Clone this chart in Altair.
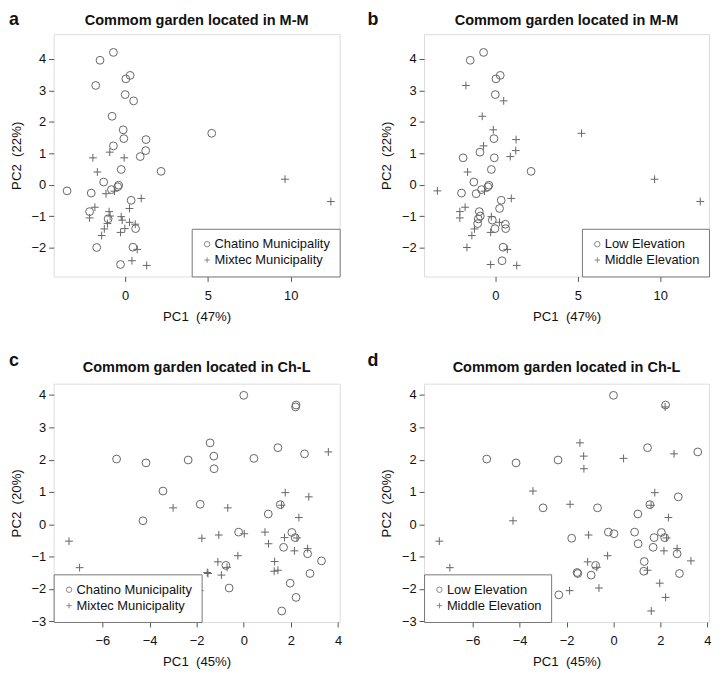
import altair as alt
import pandas as pd

# ---------------- Common garden located in M-M (panels a, b) ----------------
ab_pc1 = [-0.71, -1.52, 0.30, 0.04, -1.78, 0.00, 0.51, -0.79, -0.12, -0.08,
          1.26, -0.71, 1.24, 0.91, 5.23, -0.24, 2.17, -1.30, -0.39, -0.45,
          -0.83, -3.51, -2.05, 0.36, -2.15, -1.03, 0.63, -1.72, 0.47, -0.28,
          -1.95, -0.93, -0.06, -1.68, -1.16, -0.65, 0.97, 0.26, -1.83, -2.15,
          -0.97, -0.91, -0.24, -0.18, 0.26, 0.61, -0.02, -0.28, -1.26, -1.42,
          0.73, 0.41, 1.30, 9.66, 12.43, -1.07]
ab_pc2 = [4.21, 3.96, 3.48, 3.37, 3.16, 2.87, 2.67, 2.18, 1.75, 1.47,
          1.44, 1.24, 1.09, 0.90, 1.64, 0.49, 0.43, 0.09, -0.01, -0.06,
          -0.15, -0.19, -0.26, -0.49, -0.85, -1.08, -1.39, -1.99, -1.98, -2.53,
          0.86, 1.04, 0.86, 0.41, -0.28, -0.20, -0.43, -0.75, -0.71, -1.05,
          -0.85, -0.99, -1.01, -1.12, -1.19, -1.25, -1.39, -1.51, -1.40, -1.61,
          -2.05, -2.41, -2.56, 0.18, -0.53, -1.23]
ab_muni = ["C"] * 30 + ["M"] * 26
ab_elev = ["L", "L", "L", "L", "M", "L", "M", "M", "M", "L",
           "M", "M", "M", "M", "M", "L", "L", "L", "L", "L",
           "L", "M", "L", "L", "M", "L", "L", "M", "L", "M",
           "L", "L", "L", "M", "L", "M", "M", "L", "M", "M",
           "L", "L", "M", "L", "M", "L", "L", "M", "M", "M",
           "M", "L", "M", "M", "M", "L"]

# ---------------- Common garden located in Ch-L (panels c, d) ----------------
cd_pc1 = [0.00, 2.22, 2.20, -1.43, -1.27, -1.26, -2.36, -4.15, -5.40, 0.43,
          1.45, 2.58, -3.43, -4.28, -1.85, 1.04, 1.55, -0.22, 2.04, 2.18,
          1.69, 2.71, 3.30, -0.76, 2.81, -0.62, 1.97, 2.22, 1.61, -2.33,
          3.59, 1.76, 2.76, -0.68, -3.00, 1.60, 2.34, -1.78, -1.06, 0.02,
          0.90, 1.73, 2.26, 1.05, 2.15, 2.71, -0.25, -1.10, -0.71, -1.55,
          -1.52, -0.95, 1.31, 1.29, 1.45, -7.42, -6.97, -1.87]
cd_pc2 = [3.99, 3.69, 3.63, 2.52, 2.11, 1.72, 1.99, 1.90, 2.02, 2.04,
          2.37, 2.18, 1.03, 0.11, 0.62, 0.32, 0.61, -0.24, -0.25, -0.41,
          -0.71, -0.91, -1.13, -1.27, -1.52, -1.97, -1.82, -2.26, -2.68, -2.18,
          2.24, 0.98, 0.85, 0.51, 0.51, 0.59, 0.21, -0.43, -0.33, -0.29,
          -0.24, -0.41, -0.42, -0.60, -0.82, -0.75, -0.97, -1.16, -1.33, -1.49,
          -1.52, -1.57, -1.15, -1.45, -1.42, -0.52, -1.34, -2.05]
cd_muni = ["C"] * 30 + ["M"] * 28
cd_elev = ["L", "L", "M", "M", "M", "M", "L", "L", "L", "M",
           "L", "M", "M", "M", "M", "L", "L", "L", "L", "L",
           "L", "L", "M", "L", "L", "M", "M", "M", "M", "L",
           "L", "M", "L", "L", "L", "M", "M", "L", "M", "L",
           "L", "L", "M", "L", "M", "M", "M", "M", "M", "L",
           "L", "L", "L", "L", "M", "M", "M", "M"]

muni_names = {"C": "Chatino Municipality", "M": "Mixtec Municipality"}
elev_names = {"L": "Low Elevation", "M": "Middle Elevation"}

ab_df = pd.DataFrame({"PC1": ab_pc1, "PC2": ab_pc2,
                      "muni": [muni_names[m] for m in ab_muni],
                      "elev": [elev_names[e] for e in ab_elev]})
cd_df = pd.DataFrame({"PC1": cd_pc1, "PC2": cd_pc2,
                      "muni": [muni_names[m] for m in cd_muni],
                      "elev": [elev_names[e] for e in cd_elev]})

PLUS = "M-1,0H1M0,-1V1"
FONT = "Liberation Sans"
PT = "#666666"


def panel(df, field, domain_labels, legend_orient, xdom, ydom, xvals, yvals,
          xtitle, ytitle, title, letter, letter_dx, letter_dy, title_dy, w, h):
    pts = alt.Chart(df).mark_point(filled=False, size=62, strokeWidth=1,
                                   color=PT, opacity=1).encode(
        x=alt.X("PC1:Q", scale=alt.Scale(domain=xdom, nice=False, zero=False),
                axis=alt.Axis(values=xvals, title=xtitle, grid=False, domain=False,
                              tickSize=5, tickColor="#555", labelPadding=8,
                              labelFontSize=13, labelColor="#111", titleFontSize=13.3,
                              titleFontWeight="normal", titleColor="#111",
                              titlePadding=7, labelFont=FONT, titleFont=FONT)),
        y=alt.Y("PC2:Q", scale=alt.Scale(domain=ydom, nice=False, zero=False),
                axis=alt.Axis(values=yvals, title=ytitle, grid=False, domain=False,
                              tickSize=5, tickColor="#555", labelPadding=3,
                              labelAngle=0, labelFontSize=13, labelColor="#111",
                              titleFontSize=13.3, titleFontWeight="normal",
                              titleColor="#111", titlePadding=8,
                              labelFont=FONT, titleFont=FONT)),
        shape=alt.Shape(f"{field}:N",
                        scale=alt.Scale(domain=domain_labels, range=["circle", PLUS]),
                        legend=alt.Legend(orient=legend_orient, title=None, offset=0,
                                          direction="vertical",
                                          strokeColor="#777", fillColor="white",
                                          padding=9, labelFontSize=13,
                                          labelFont=FONT, labelColor="#111",
                                          labelLimit=300, labelOffset=1,
                                          symbolSize=30, symbolStrokeColor="#888",
                                          symbolStrokeWidth=1, rowPadding=2)),
    )
    lab = alt.Chart(pd.DataFrame({"t": [letter]})).mark_text(
        align="left", baseline="alphabetic", fontSize=18, fontWeight="bold",
        font=FONT, color="#111").encode(
        x=alt.value(letter_dx), y=alt.value(letter_dy), text="t:N")
    ttl = alt.Chart(pd.DataFrame({"t": [title]})).mark_text(
        align="center", baseline="alphabetic", fontSize=14.6, fontWeight="bold",
        font=FONT, color="#111").encode(
        x=alt.value(w / 2), y=alt.value(title_dy), text="t:N")
    return alt.layer(pts, lab, ttl).properties(width=w, height=h)


muni_dom = ["Chatino Municipality", "Mixtec Municipality"]
elev_dom = ["Low Elevation", "Middle Elevation"]

ab_x = [-4.32, 12.96]
ab_y = [-2.91, 4.79]
cd_x = [-8.07, 4.07]
cd_y = [-3.02, 4.35]

pa = panel(ab_df, "muni", muni_dom, "bottom-right", ab_x, ab_y, [0, 5, 10],
           [-2, -1, 0, 1, 2, 3, 4], "PC1\u00a0 (47%)", "PC2\u00a0 (22%)",
           "Commom garden located in M-M", "a", -45, -9, -9.5, 288, 244)
pb = panel(ab_df, "elev", elev_dom, "bottom-right", ab_x, ab_y, [0, 5, 10],
           [-2, -1, 0, 1, 2, 3, 4], "PC1\u00a0 (47%)", "PC2\u00a0 (22%)",
           "Commom garden located in M-M", "b", -57, -9, -9.5, 287, 244)
pc = panel(cd_df, "muni", muni_dom, "bottom-left", cd_x, cd_y, [-6, -4, -2, 0, 2, 4],
           [-3, -2, -1, 0, 1, 2, 3, 4], "PC1\u00a0 (45%)", "PC2\u00a0 (20%)",
           "Commom garden located in Ch-L", "c", -45, -18, -12, 288, 240)
pd_ = panel(cd_df, "elev", elev_dom, "bottom-left", cd_x, cd_y, [-6, -4, -2, 0, 2, 4],
            [-3, -2, -1, 0, 1, 2, 3, 4], "PC1\u00a0 (45%)", "PC2\u00a0 (20%)",
            "Commom garden located in Ch-L", "d", -57, -18, -12, 287, 240)

chart = alt.concat(pa, pb, pc, pd_, columns=2, spacing={"row": 28, "column": 24}).resolve_scale(
    shape="independent", x="independent", y="independent"
).resolve_legend(shape="independent").properties(
    padding=0, background="white"
).configure_view(stroke="#777", strokeWidth=1).configure(font=FONT)

chart.save("out.html", embed_options={"renderer": "svg", "actions": False})
